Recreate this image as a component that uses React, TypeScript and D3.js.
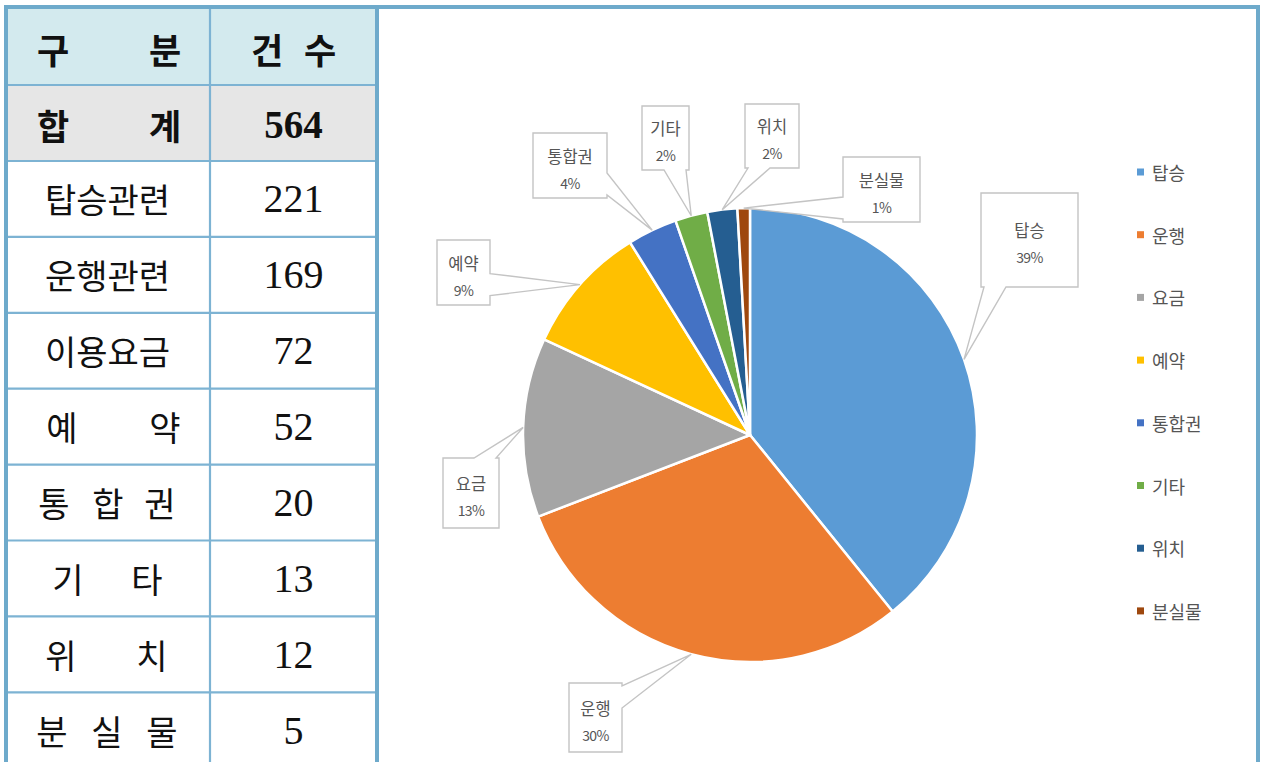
import React from "react";
import * as d3 from "d3";

// ---- data ----
const tableNames = ["탑승관련", "운행관련", "이용요금", "예약", "통합권", "기타", "위치", "분실물"];
const tableCounts = [221, 169, 72, 52, 20, 13, 12, 5];
const totalLabel = "합계";
const headerLabels = ["구분", "건수"];

const pieCategories = ["탑승", "운행", "요금", "예약", "통합권", "기타", "위치", "분실물"];
const pieValues = [221, 169, 72, 52, 20, 13, 12, 5];
const pieColors = ["#5B9BD5", "#ED7D31", "#A5A5A5", "#FFC000", "#4472C4", "#70AD47", "#255E91", "#9E480E"];

// ---- layout (positions only) ----
const W = 1261, H = 762;
const frameColor = "#6EAACB";
const gridColor = "#7DB3D3";
const tableLeft = 7, tableRight = 377, colDiv = 210, tableTop = 8;
const headerBottom = 85, totalBottom = 161, rowH = 75.9;
const spreadCenters: Record<string, number[]> = {
  "예약": [62, 165],
  "통합권": [54, 108, 160],
  "기타": [68, 147],
  "위치": [61, 152],
  "분실물": [52, 107, 162],
};
// callout boxes: [x0, y0, x1, y1]
const calloutBoxes: number[][] = [
  [981, 193, 1078, 287],
  [569, 683, 622, 752],
  [443, 458, 499, 528],
  [437, 240, 490, 305],
  [533, 133, 607, 198],
  [642, 106, 689, 170],
  [745, 104, 799, 168],
  [843, 157, 920, 222],
];
const cx = 750, cy = 435, R = 227;
const legendX = 1137, legendY0 = 172, legendStep = 62.7;

function calloutPath(b: number[], ax: number, ay: number) {
  const [x0, y0, x1, y1] = b;
  const dx = ax < x0 ? x0 - ax : ax > x1 ? ax - x1 : 0;
  const dy = ay < y0 ? y0 - ay : ay > y1 ? ay - y1 : 0;
  const hw = 11;
  let side: string;
  if (dy >= dx) side = ay < y0 ? "top" : "bottom";
  else side = ax < x0 ? "left" : "right";
  const clampX = Math.max(x0 + hw + 3, Math.min(x1 - hw - 3, ax));
  const clampY = Math.max(y0 + hw + 3, Math.min(y1 - hw - 3, ay));
  const p = d3.path();
  p.moveTo(x0, y0);
  if (side === "top") { p.lineTo(clampX - hw, y0); p.lineTo(ax, ay); p.lineTo(clampX + hw, y0); }
  p.lineTo(x1, y0);
  if (side === "right") { p.lineTo(x1, clampY - hw); p.lineTo(ax, ay); p.lineTo(x1, clampY + hw); }
  p.lineTo(x1, y1);
  if (side === "bottom") { p.lineTo(clampX + hw, y1); p.lineTo(ax, ay); p.lineTo(clampX - hw, y1); }
  p.lineTo(x0, y1);
  if (side === "left") { p.lineTo(x0, clampY + hw); p.lineTo(ax, ay); p.lineTo(x0, clampY - hw); }
  p.closePath();
  return p.toString();
}

export default function App() {
  const total = d3.sum(pieValues);
  const pie = d3.pie<number>().sort(null).value((d) => d);
  const arcs = pie(pieValues);
  const arcGen = d3.arc<d3.PieArcDatum<number>>().innerRadius(0).outerRadius(R);
  const edgeArc = d3.arc<d3.PieArcDatum<number>>().innerRadius(R).outerRadius(R);
  const pct = d3.format(".0%");

  const rowTops = tableNames.map((_, i) => totalBottom + i * rowH);
  const c1 = (tableLeft + colDiv) / 2;
  const c2 = (colDiv + tableRight) / 2;
  const krFont = "'Noto Sans CJK KR', sans-serif";
  const numFont = "'Liberation Serif', serif";

  const renderLabel = (name: string, y: number) => {
    const centers = spreadCenters[name];
    if (centers) {
      return name.split("").map((ch, k) => (
        <text key={k} x={centers[k]} y={y} textAnchor="middle" dominantBaseline="central"
          fontFamily={krFont} fontSize={34} fill="#111">{ch}</text>
      ));
    }
    return (
      <text x={c1 - 1} y={y} textAnchor="middle" dominantBaseline="central"
        fontFamily={krFont} fontSize={34} fill="#111">{name}</text>
    );
  };

  return (
    <svg width={W} height={H} style={{ position: "absolute", left: 0, top: 0, background: "#fff" }}>
      <title>{headerLabels.join(" ")}</title>
      {/* table backgrounds */}
      <rect x={tableLeft} y={tableTop} width={tableRight - tableLeft} height={headerBottom - tableTop} fill="#D3EAEE" />
      <rect x={tableLeft} y={headerBottom} width={tableRight - tableLeft} height={totalBottom - headerBottom} fill="#E6E6E6" />
      {/* grid lines */}
      {[headerBottom, totalBottom, ...rowTops.slice(1)].map((y, i) => (
        <line key={i} x1={tableLeft} x2={tableRight} y1={y} y2={y} stroke={gridColor} strokeWidth={2.2} />
      ))}
      <line x1={colDiv} x2={colDiv} y1={tableTop} y2={H} stroke={gridColor} strokeWidth={2.2} />
      {/* header */}
      {[["구", 53], ["분", 165], ["건", 267], ["수", 320]].map(([ch, x]) => (
        <text key={ch as string} x={x as number} y={48} textAnchor="middle" dominantBaseline="central"
          fontFamily={krFont} fontSize={35} fontWeight={700} fill="#111">{ch}</text>
      ))}
      {/* total row */}
      {totalLabel.split("").map((ch, k) => (
        <text key={k} x={[53, 165][k]} y={124} textAnchor="middle" dominantBaseline="central"
          fontFamily={krFont} fontSize={35} fontWeight={700} fill="#111">{ch}</text>
      ))}
      <text x={c2} y={124} textAnchor="middle" dominantBaseline="central" fontFamily={numFont}
        fontSize={39} fontWeight={700} fill="#111">{d3.sum(tableCounts)}</text>
      {/* rows */}
      {tableNames.map((name, i) => {
        const y = rowTops[i] + rowH / 2;
        return (
          <g key={name}>
            {renderLabel(name, y)}
            <text x={c2} y={y} textAnchor="middle" dominantBaseline="central" fontFamily={numFont}
              fontSize={40} fill="#111">{tableCounts[i]}</text>
          </g>
        );
      })}
      {/* frame */}
      <line x1={tableLeft - 1} x2={W - 1} y1={tableTop - 1} y2={tableTop - 1} stroke={frameColor} strokeWidth={4} />
      <line x1={tableLeft - 1} x2={tableLeft - 1} y1={tableTop - 3} y2={H} stroke={frameColor} strokeWidth={4} />
      <line x1={tableRight} x2={tableRight} y1={tableTop - 3} y2={H} stroke={frameColor} strokeWidth={4} />
      <line x1={W - 3} x2={W - 3} y1={tableTop - 3} y2={H} stroke={frameColor} strokeWidth={4} />

      {/* pie */}
      <g transform={`translate(${cx},${cy})`}>
        {arcs.map((a, i) => (
          <path key={i} d={arcGen(a) || ""} fill={pieColors[i]} stroke="#fff" strokeWidth={2.5} strokeLinejoin="round" />
        ))}
      </g>
      {/* callouts */}
      {arcs.map((a, i) => {
        const [ex, ey] = edgeArc.centroid(a);
        const b = calloutBoxes[i];
        const mx = (b[0] + b[2]) / 2;
        const my = (b[1] + b[3]) / 2;
        return (
          <g key={i}>
            <path d={calloutPath(b, cx + ex, cy + ey)} fill="#fff" stroke="#C4C4C4" strokeWidth={1.4} />
            <text x={mx} y={my - 10} textAnchor="middle" dominantBaseline="central" fontFamily={krFont}
              fontSize={16.5} fill="#555">{pieCategories[i]}</text>
            <text x={mx} y={my + 17} textAnchor="middle" dominantBaseline="central" fontFamily={krFont}
              fontSize={14} fill="#555" letterSpacing={-0.6}>{pct(pieValues[i] / total)}</text>
          </g>
        );
      })}
      {/* legend */}
      {pieCategories.map((c, i) => (
        <g key={c} transform={`translate(${legendX},${legendY0 + i * legendStep})`}>
          <rect x={0} y={-3.5} width={7} height={7} fill={pieColors[i]} />
          <text x={15} y={0} dominantBaseline="central" fontFamily={krFont} fontSize={18} fill="#555">{c}</text>
        </g>
      ))}
    </svg>
  );
}
